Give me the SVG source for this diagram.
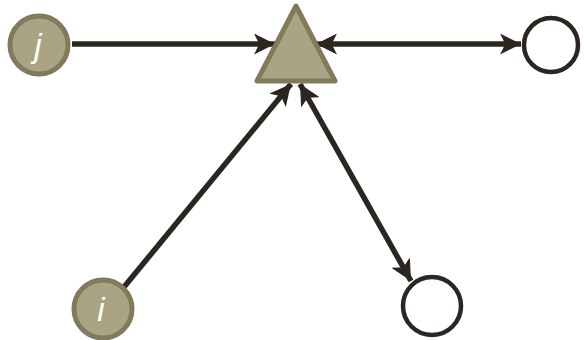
<svg xmlns="http://www.w3.org/2000/svg" width="586" height="340" viewBox="0 0 586 340">
<defs>
<style>
.filled{fill:#a9a584;stroke:#807b5c;stroke-width:5}
.open{fill:#ffffff;stroke:#2b2720;stroke-width:4.5}
.edge{stroke:#2b2720;stroke-width:5.5;fill:none}
.lbl{font-family:"Liberation Sans",Arial,sans-serif;font-style:italic;font-size:33px;fill:#ffffff;text-anchor:middle}
</style>
<marker id="ah" viewBox="0 0 10 10" refX="10" refY="5" markerWidth="21" markerHeight="21" markerUnits="userSpaceOnUse" orient="auto-start-reverse">
<path d="M0,0 L10,5 L0,10 L2.5,5 Z" fill="#2b2720"/>
</marker>
</defs>
<rect width="586" height="340" fill="#ffffff"/>
<g id="connectors">
<line class="edge" x1="72" y1="44" x2="275" y2="44" marker-end="url(#ah)"/>
<line class="edge" x1="316" y1="44" x2="521" y2="44" marker-start="url(#ah)" marker-end="url(#ah)"/>
<line class="edge" x1="124" y1="287" x2="291" y2="84" marker-end="url(#ah)"/>
<line class="edge" x1="300" y1="84" x2="411" y2="281" marker-start="url(#ah)" marker-end="url(#ah)"/>
</g>
<g id="node-j">
<circle class="filled" cx="39" cy="45" r="29"/>
<text class="lbl" x="38" y="57">j</text>
</g>
<g id="node-tri">
<polygon class="filled" points="296,6 257,81 335,81" stroke-linejoin="round"/>
</g>
<g id="node-right">
<circle class="open" cx="551" cy="45" r="27"/>
</g>
<g id="node-i">
<circle class="filled" cx="103" cy="309" r="29"/>
<text class="lbl" x="101" y="321">i</text>
</g>
<g id="node-bottom">
<circle class="open" cx="432" cy="306" r="29"/>
</g>
</svg>
